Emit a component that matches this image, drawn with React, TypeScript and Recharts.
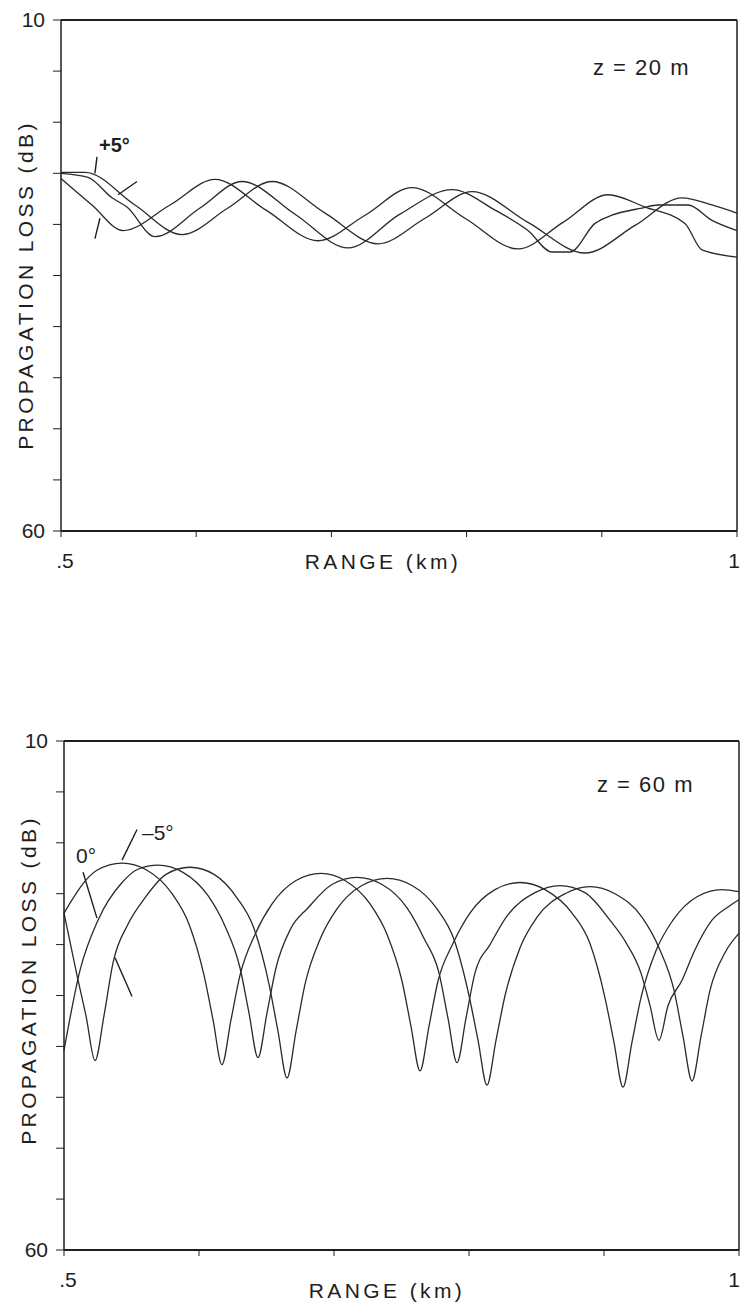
import { LineChart, Line, XAxis, YAxis, ReferenceLine } from "recharts";

const FONT = '"Liberation Sans", Arial, Helvetica, sans-serif';
const INK = "#1e1e1e";

const X_TICKS = [0.5, 0.6, 0.7, 0.8, 0.9, 1];
const Y_TICKS = [10, 15, 20, 25, 30, 35, 40, 45, 50, 55, 60];

// z = 20 m
const TOP_RANGE_M5 = [0.5, 0.5229, 0.5459, 0.5806, 0.6139, 0.6516, 0.6901, 0.7249, 0.7596, 0.7988, 0.838, 0.8713, 0.9046, 0.932, 0.9615, 0.9741, 1.0];
const TOP_LOSS_M5 = [25.5, 28.1, 30.6, 28.1, 25.6, 28.6, 31.6, 29.1, 26.4, 29.4, 32.4, 29.8, 27.1, 28.3, 29.9, 32.5, 33.2];

const TOP_RANGE_0 = [0.5, 0.52, 0.5377, 0.5488, 0.5696, 0.6028, 0.6339, 0.6731, 0.7123, 0.7507, 0.7892, 0.821, 0.8454, 0.8632, 0.8765, 0.895, 0.9075, 0.9297, 0.9416, 0.9638, 0.9815, 1.0];
const TOP_LOSS_0 = [25.0, 25.4, 27.4, 28.3, 31.2, 28.4, 25.8, 29.0, 32.3, 29.0, 26.6, 28.6, 30.6, 32.7, 32.7, 29.9, 29.1, 28.4, 28.1, 28.1, 29.6, 30.6];

const TOP_RANGE_P5 = [0.5, 0.5178, 0.5547, 0.5895, 0.6235, 0.6561, 0.6953, 0.7345, 0.7693, 0.804, 0.8454, 0.8876, 0.9246, 0.9593, 0.9815, 1.0];
const TOP_LOSS_P5 = [24.9, 24.9, 28.1, 31.0, 28.4, 25.8, 28.9, 31.9, 29.4, 26.8, 29.8, 32.8, 30.1, 27.4, 28.1, 28.9];

// z = 60 m
const BOT_RANGE_M5 = [0.5, 0.5244, 0.543, 0.5615, 0.58, 0.5926, 0.6037, 0.6104, 0.617, 0.6237, 0.6304, 0.6415, 0.6541, 0.6719, 0.6904, 0.7081, 0.7267, 0.7393, 0.7504, 0.757, 0.7637, 0.7704, 0.777, 0.7881, 0.8007, 0.8193, 0.8378, 0.8563, 0.8763, 0.8896, 0.9007, 0.9074, 0.9141, 0.9207, 0.9274, 0.9385, 0.9511, 0.9689, 0.9874, 1.0];
const BOT_LOSS_M5 = [26.9, 22.7, 22.0, 22.7, 25.0, 28.0, 33.0, 37.4, 41.8, 37.4, 33.0, 29.0, 26.0, 23.7, 23.0, 23.7, 26.0, 29.0, 33.6, 38.0, 42.4, 38.0, 33.6, 29.9, 26.9, 24.6, 23.9, 24.6, 26.9, 29.9, 35.2, 39.6, 44.0, 39.6, 35.2, 30.6, 27.6, 25.3, 24.6, 24.8];

const BOT_RANGE_0 = [0.5, 0.5119, 0.5252, 0.543, 0.5548, 0.5696, 0.5881, 0.6067, 0.6193, 0.6304, 0.637, 0.6437, 0.6504, 0.657, 0.6681, 0.6807, 0.6985, 0.717, 0.7356, 0.7541, 0.7667, 0.7778, 0.7844, 0.7911, 0.7978, 0.8044, 0.8156, 0.8281, 0.8489, 0.8674, 0.8859, 0.9044, 0.9163, 0.9274, 0.9341, 0.9407, 0.9474, 0.9578, 0.9674, 0.98, 0.9919, 1.0];
const BOT_LOSS_0 = [40.4, 32.5, 27.6, 23.9, 22.6, 22.2, 22.9, 25.2, 28.2, 32.3, 36.7, 41.1, 36.7, 32.3, 28.4, 26.4, 24.1, 23.4, 24.1, 26.4, 29.4, 32.8, 37.2, 41.6, 37.2, 32.8, 30.0, 27.2, 24.9, 24.2, 24.9, 27.6, 29.8, 32.8, 36.0, 39.4, 36.0, 33.5, 30.5, 27.6, 26.3, 25.6];

const BOT_RANGE_P5 = [0.5, 0.5096, 0.5163, 0.523, 0.5296, 0.5363, 0.5474, 0.56, 0.5756, 0.5933, 0.6111, 0.6281, 0.6407, 0.6519, 0.6585, 0.6652, 0.6719, 0.6785, 0.6896, 0.7022, 0.7207, 0.7393, 0.7578, 0.7763, 0.7889, 0.8, 0.8067, 0.8133, 0.82, 0.8267, 0.8378, 0.8504, 0.8711, 0.8896, 0.9081, 0.9281, 0.9407, 0.9519, 0.9585, 0.9652, 0.9719, 0.9785, 0.9896, 1.0];
const BOT_LOSS_P5 = [26.9, 33.0, 37.0, 41.4, 37.0, 31.8, 28.0, 25.4, 23.1, 22.4, 23.1, 25.4, 28.4, 33.9, 38.5, 43.1, 38.5, 33.9, 29.5, 26.5, 24.2, 23.5, 24.2, 26.5, 29.5, 35.0, 39.4, 43.8, 39.4, 35.0, 30.3, 27.3, 25.0, 24.3, 25.0, 27.3, 30.3, 34.5, 39.0, 43.4, 39.0, 34.5, 30.8, 28.9];

// label pointer strokes, [range, loss] pairs
const TOP_POINTERS = [
  [[0.5266, 23.4], [0.5251, 25.0]],
  [[0.5562, 25.8], [0.5422, 27.1]],
  [[0.5288, 29.4], [0.5251, 31.4]],
];
const BOT_POINTERS = [
  [[0.5141, 22.9], [0.5244, 27.4]],
  [[0.5541, 18.7], [0.543, 21.7]],
  [[0.5378, 31.3], [0.5504, 35.1]],
];

const zip = (r: number[], l: number[]) => r.map((x, i) => ({ range: x, loss: l[i] }));

const fmtY = (v: number) => (v === 10 || v === 60 ? String(v) : "");

// only the two end labels are printed; "1" hugs the right edge
function RangeTick({ x, y, payload }: any) {
  const v = payload.value;
  if (v !== 0.5 && v !== 1) return null;
  const end = v === 1;
  return (
    <text
      x={end ? 740 : x + 4}
      y={y}
      dy="0.71em"
      textAnchor={end ? "end" : "middle"}
      fontSize={21}
      fontFamily={FONT}
      fill={INK}
    >
      {end ? "1" : ".5"}
    </text>
  );
}

type PanelProps = {
  series: { range: number; loss: number }[][];
  pointers: number[][][];
  left: number;
  right: number;
  bottom: number;
};

function Panel({ series, pointers, left, right, bottom }: PanelProps) {
  const tick = { fontSize: 21, fill: INK, fontFamily: FONT };
  return (
    <LineChart width={740} height={600} margin={{ top: 20, right: 0, bottom, left: 0 }}>
      <XAxis
        dataKey="range"
        type="number"
        domain={[0.5, 1]}
        ticks={X_TICKS}
        interval={0}
        tick={<RangeTick />}
        tickSize={6}
        tickMargin={16}
        height={40}
        axisLine={{ stroke: INK, strokeWidth: 2 }}
        tickLine={{ stroke: INK }}
      />
      <YAxis
        type="number"
        domain={[10, 60]}
        reversed
        ticks={Y_TICKS}
        interval={0}
        tickFormatter={fmtY}
        tickSize={8}
        tickMargin={8}
        width={left}
        tick={tick}
        axisLine={{ stroke: INK, strokeWidth: 1.5 }}
        tickLine={{ stroke: INK }}
      />
      <YAxis
        yAxisId="r"
        orientation="right"
        type="number"
        domain={[10, 60]}
        reversed
        ticks={Y_TICKS}
        interval={0}
        tickFormatter={() => ""}
        tickSize={4}
        width={right}
        axisLine={{ stroke: INK, strokeWidth: 1.5 }}
        tickLine={{ stroke: INK }}
      />
      <ReferenceLine y={10} stroke={INK} strokeWidth={2} />
      {pointers.map((p, i) => (
        <ReferenceLine
          key={i}
          segment={[
            { x: p[0][0], y: p[0][1] },
            { x: p[1][0], y: p[1][1] },
          ]}
          stroke={INK}
          strokeWidth={1.4}
        />
      ))}
      {series.map((d, i) => (
        <Line
          key={i}
          data={d}
          dataKey="loss"
          type="monotone"
          stroke="#2a2a2a"
          strokeWidth={1.3}
          dot={false}
          activeDot={false}
          isAnimationActive={false}
        />
      ))}
    </LineChart>
  );
}

export default function App() {
  const text = { fontFamily: FONT, fill: INK };
  return (
    <div style={{ position: "absolute", left: 0, top: 0, width: 740, height: 1308, background: "#fff", overflow: "hidden" }}>
      <div style={{ position: "absolute", left: 0, top: 0 }}>
        <Panel
          series={[zip(TOP_RANGE_M5, TOP_LOSS_M5), zip(TOP_RANGE_0, TOP_LOSS_0), zip(TOP_RANGE_P5, TOP_LOSS_P5)]}
          pointers={TOP_POINTERS}
          left={61}
          right={3}
          bottom={29}
        />
      </div>
      <div style={{ position: "absolute", left: 0, top: 721 }}>
        <Panel
          series={[zip(BOT_RANGE_M5, BOT_LOSS_M5), zip(BOT_RANGE_0, BOT_LOSS_0), zip(BOT_RANGE_P5, BOT_LOSS_P5)]}
          pointers={BOT_POINTERS}
          left={64}
          right={1}
          bottom={31}
        />
      </div>
      <svg width={740} height={1308} style={{ position: "absolute", left: 0, top: 0, pointerEvents: "none" }}>
        <text {...text} fontSize={21} letterSpacing={3.4} textAnchor="middle" dominantBaseline="central" transform="translate(25,285) rotate(-90)">
          PROPAGATION LOSS (dB)
        </text>
        <text {...text} fontSize={21} letterSpacing={3.4} textAnchor="middle" dominantBaseline="central" transform="translate(28,980) rotate(-90)">
          PROPAGATION LOSS (dB)
        </text>
        <text {...text} fontSize={21} letterSpacing={3.4} x={383} y={569} textAnchor="middle">RANGE (km)</text>
        <text {...text} fontSize={21} letterSpacing={3.4} x={387} y={1298} textAnchor="middle">RANGE (km)</text>
        <text {...text} fontSize={22} letterSpacing={1.5} x={593} y={75}>z = 20 m</text>
        <text {...text} fontSize={22} letterSpacing={1.5} x={597} y={792}>z = 60 m</text>
        <text {...text} fontSize={20} fontWeight={600} x={99} y={152}>+5°</text>
        <text {...text} fontSize={21} x={76} y={863}>0°</text>
        <text {...text} fontSize={21} x={142} y={840}>–5°</text>
      </svg>
    </div>
  );
}
